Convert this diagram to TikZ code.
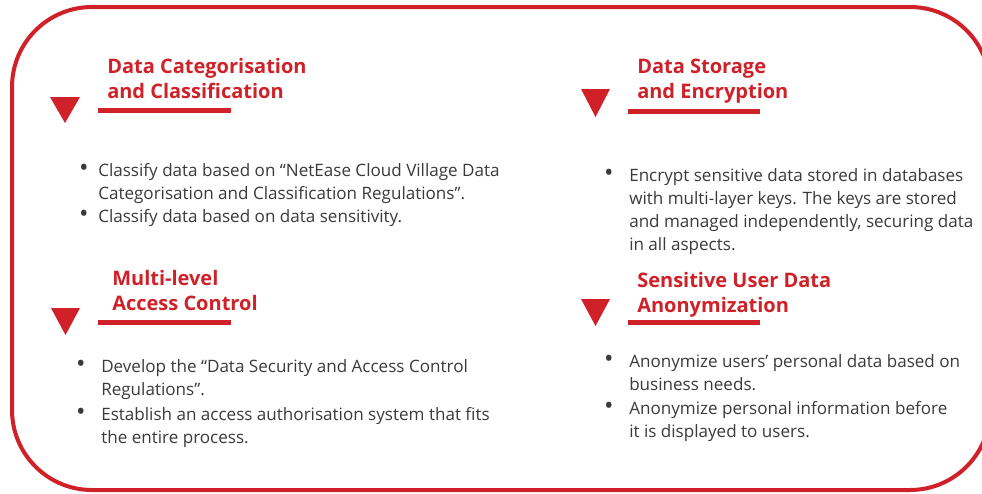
\documentclass[tikz,border=0pt]{standalone}
\usepackage{fontspec}
\setmainfont{Open Sans}
\definecolor{brandred}{RGB}{208,32,40}
\definecolor{bodygray}{RGB}{58,58,58}

\begin{document}
\begin{tikzpicture}[x=0.75pt,y=-0.75pt,
	frame/.style={draw=brandred,line width=3pt,rounded corners=60pt},
	marker/.style={fill=brandred},
	rulebar/.style={fill=brandred},
	sectitle/.style={anchor=base west,inner sep=0pt,align=left,text=brandred,
		font=\bfseries\fontsize{15}{18.75}\selectfont},
	itemtext/.style={anchor=base west,inner sep=0pt,align=left,text=bodygray,
		font=\fontsize{12.8}{17.25}\selectfont},
	itemdot/.style={anchor=base,inner sep=0pt,text=bodygray,
		font=\fontsize{19}{17.25}\selectfont}]
	%%%%% START %%%%%
	
	\clip (0,0) rectangle (982,493);
	\draw[frame] (12,7) rectangle (990,490);
	
	% categorisation (text nodes sit on the baseline of their last line)
	\fill[marker] (50,97) -- (80,97) -- (65,123) -- cycle;
	\fill[rulebar] (98,108) rectangle (231,113);
	\node[sectitle] (cat-title) at (107,98) {Data Categorisation\\and Classification};
	\node[itemdot] (cat-dot1) at (84,176) {\textbullet};
	\node[itemtext] (cat-item1) at (98,199) {Classify data based on “NetEase Cloud Village Data\\Categorisation and Classification Regulations”.};
	\node[itemdot] (cat-dot2) at (84,222) {\textbullet};
	\node[itemtext] (cat-item2) at (98,222) {Classify data based on data sensitivity.};
	
	% storage
	\fill[marker] (581,89) -- (610,89) -- (595.5,117) -- cycle;
	\fill[rulebar] (628,109) rectangle (760,114);
	\node[sectitle] (sto-title) at (637,98) {Data Storage\\and Encryption};
	\node[itemdot] (sto-dot1) at (609,181) {\textbullet};
	\node[itemtext] (sto-item1) at (629,250) {Encrypt sensitive data stored in databases\\with multi-layer keys. The keys are stored\\and managed independently, securing data\\in all aspects.};
	
	% access control
	\fill[marker] (51,308) -- (80,308) -- (65.5,335) -- cycle;
	\fill[rulebar] (98,320) rectangle (231,325);
	\node[sectitle] (acc-title) at (112,310) {Multi-level\\Access Control};
	\node[itemdot] (acc-dot1) at (81,372) {\textbullet};
	\node[itemtext] (acc-item1) at (101,395) {Develop the “Data Security and Access Control\\Regulations”.};
	\node[itemdot] (acc-dot2) at (81,420) {\textbullet};
	\node[itemtext] (acc-item2) at (101,443) {Establish an access authorisation system that fits\\the entire process.};
	
	% anonymization
	\fill[marker] (581,299) -- (610,299) -- (595.5,326) -- cycle;
	\fill[rulebar] (628,320) rectangle (760,325);
	\node[sectitle] (ano-title) at (637,312) {Sensitive User Data\\Anonymization};
	\node[itemdot] (ano-dot1) at (609,367) {\textbullet};
	\node[itemtext] (ano-item1) at (629,390) {Anonymize users’ personal data based on\\business needs.};
	\node[itemdot] (ano-dot2) at (609,414) {\textbullet};
	\node[itemtext] (ano-item2) at (629,437) {Anonymize personal information before\\it is displayed to users.};
	
	%%%%% END %%%%%
\end{tikzpicture}
\end{document}
